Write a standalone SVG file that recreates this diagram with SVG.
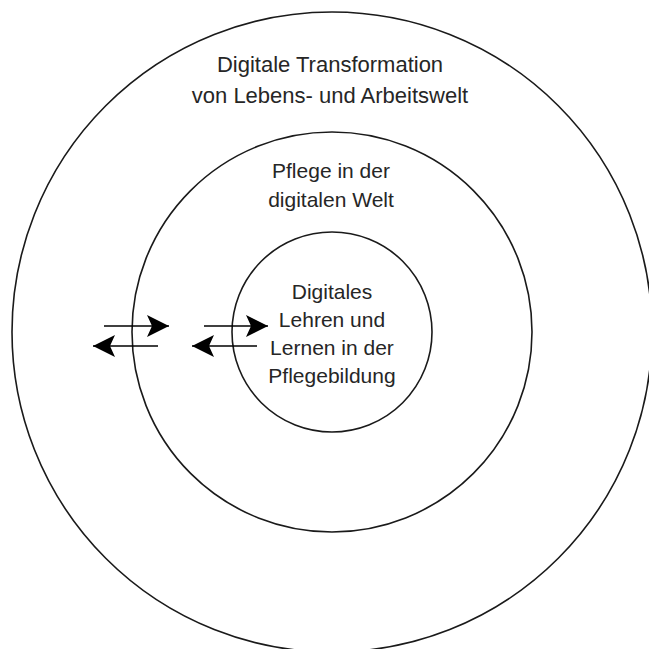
<svg xmlns="http://www.w3.org/2000/svg" width="649" height="649" viewBox="0 0 649 649">
<style>
.ring{fill:none;stroke:#1a1a1a;stroke-width:1.6}
.lbl{font-family:"Liberation Sans",Arial,sans-serif;font-size:21px;fill:#262626;text-anchor:middle}
.big{font-size:22px}
.arr{stroke:#000;stroke-width:1.6;fill:none;marker-end:url(#head)}
</style>
<defs>
<marker id="head" markerUnits="userSpaceOnUse" viewBox="0 0 22 22" markerWidth="22" markerHeight="22" refX="22" refY="11" orient="auto">
<path d="M0,0 L22,11 L0,22 L5,11 Z" fill="#000"/>
</marker>
</defs>
<rect width="649" height="649" fill="#fff"/>
<g id="outer">
<circle class="ring" cx="332" cy="332" r="320"/>
<text class="lbl big" x="330" y="72">Digitale Transformation</text>
<text class="lbl big" x="330" y="103">von Lebens- und Arbeitswelt</text>
</g>
<g id="middle">
<circle class="ring" cx="332" cy="332" r="200"/>
<text class="lbl" x="331" y="178">Pflege in der</text>
<text class="lbl" x="331" y="207">digitalen Welt</text>
</g>
<g id="inner">
<circle class="ring" cx="332" cy="332" r="100"/>
<text class="lbl" x="332" y="299">Digitales</text>
<text class="lbl" x="332" y="327">Lehren und</text>
<text class="lbl" x="332" y="355">Lernen in der</text>
<text class="lbl" x="332" y="383">Pflegebildung</text>
</g>
<g id="connectors">
<line class="arr" x1="104" y1="326" x2="169" y2="326"/>
<line class="arr" x1="158" y1="346" x2="93" y2="346"/>
<line class="arr" x1="204" y1="326" x2="268" y2="326"/>
<line class="arr" x1="257" y1="346" x2="192" y2="346"/>
</g>
</svg>
